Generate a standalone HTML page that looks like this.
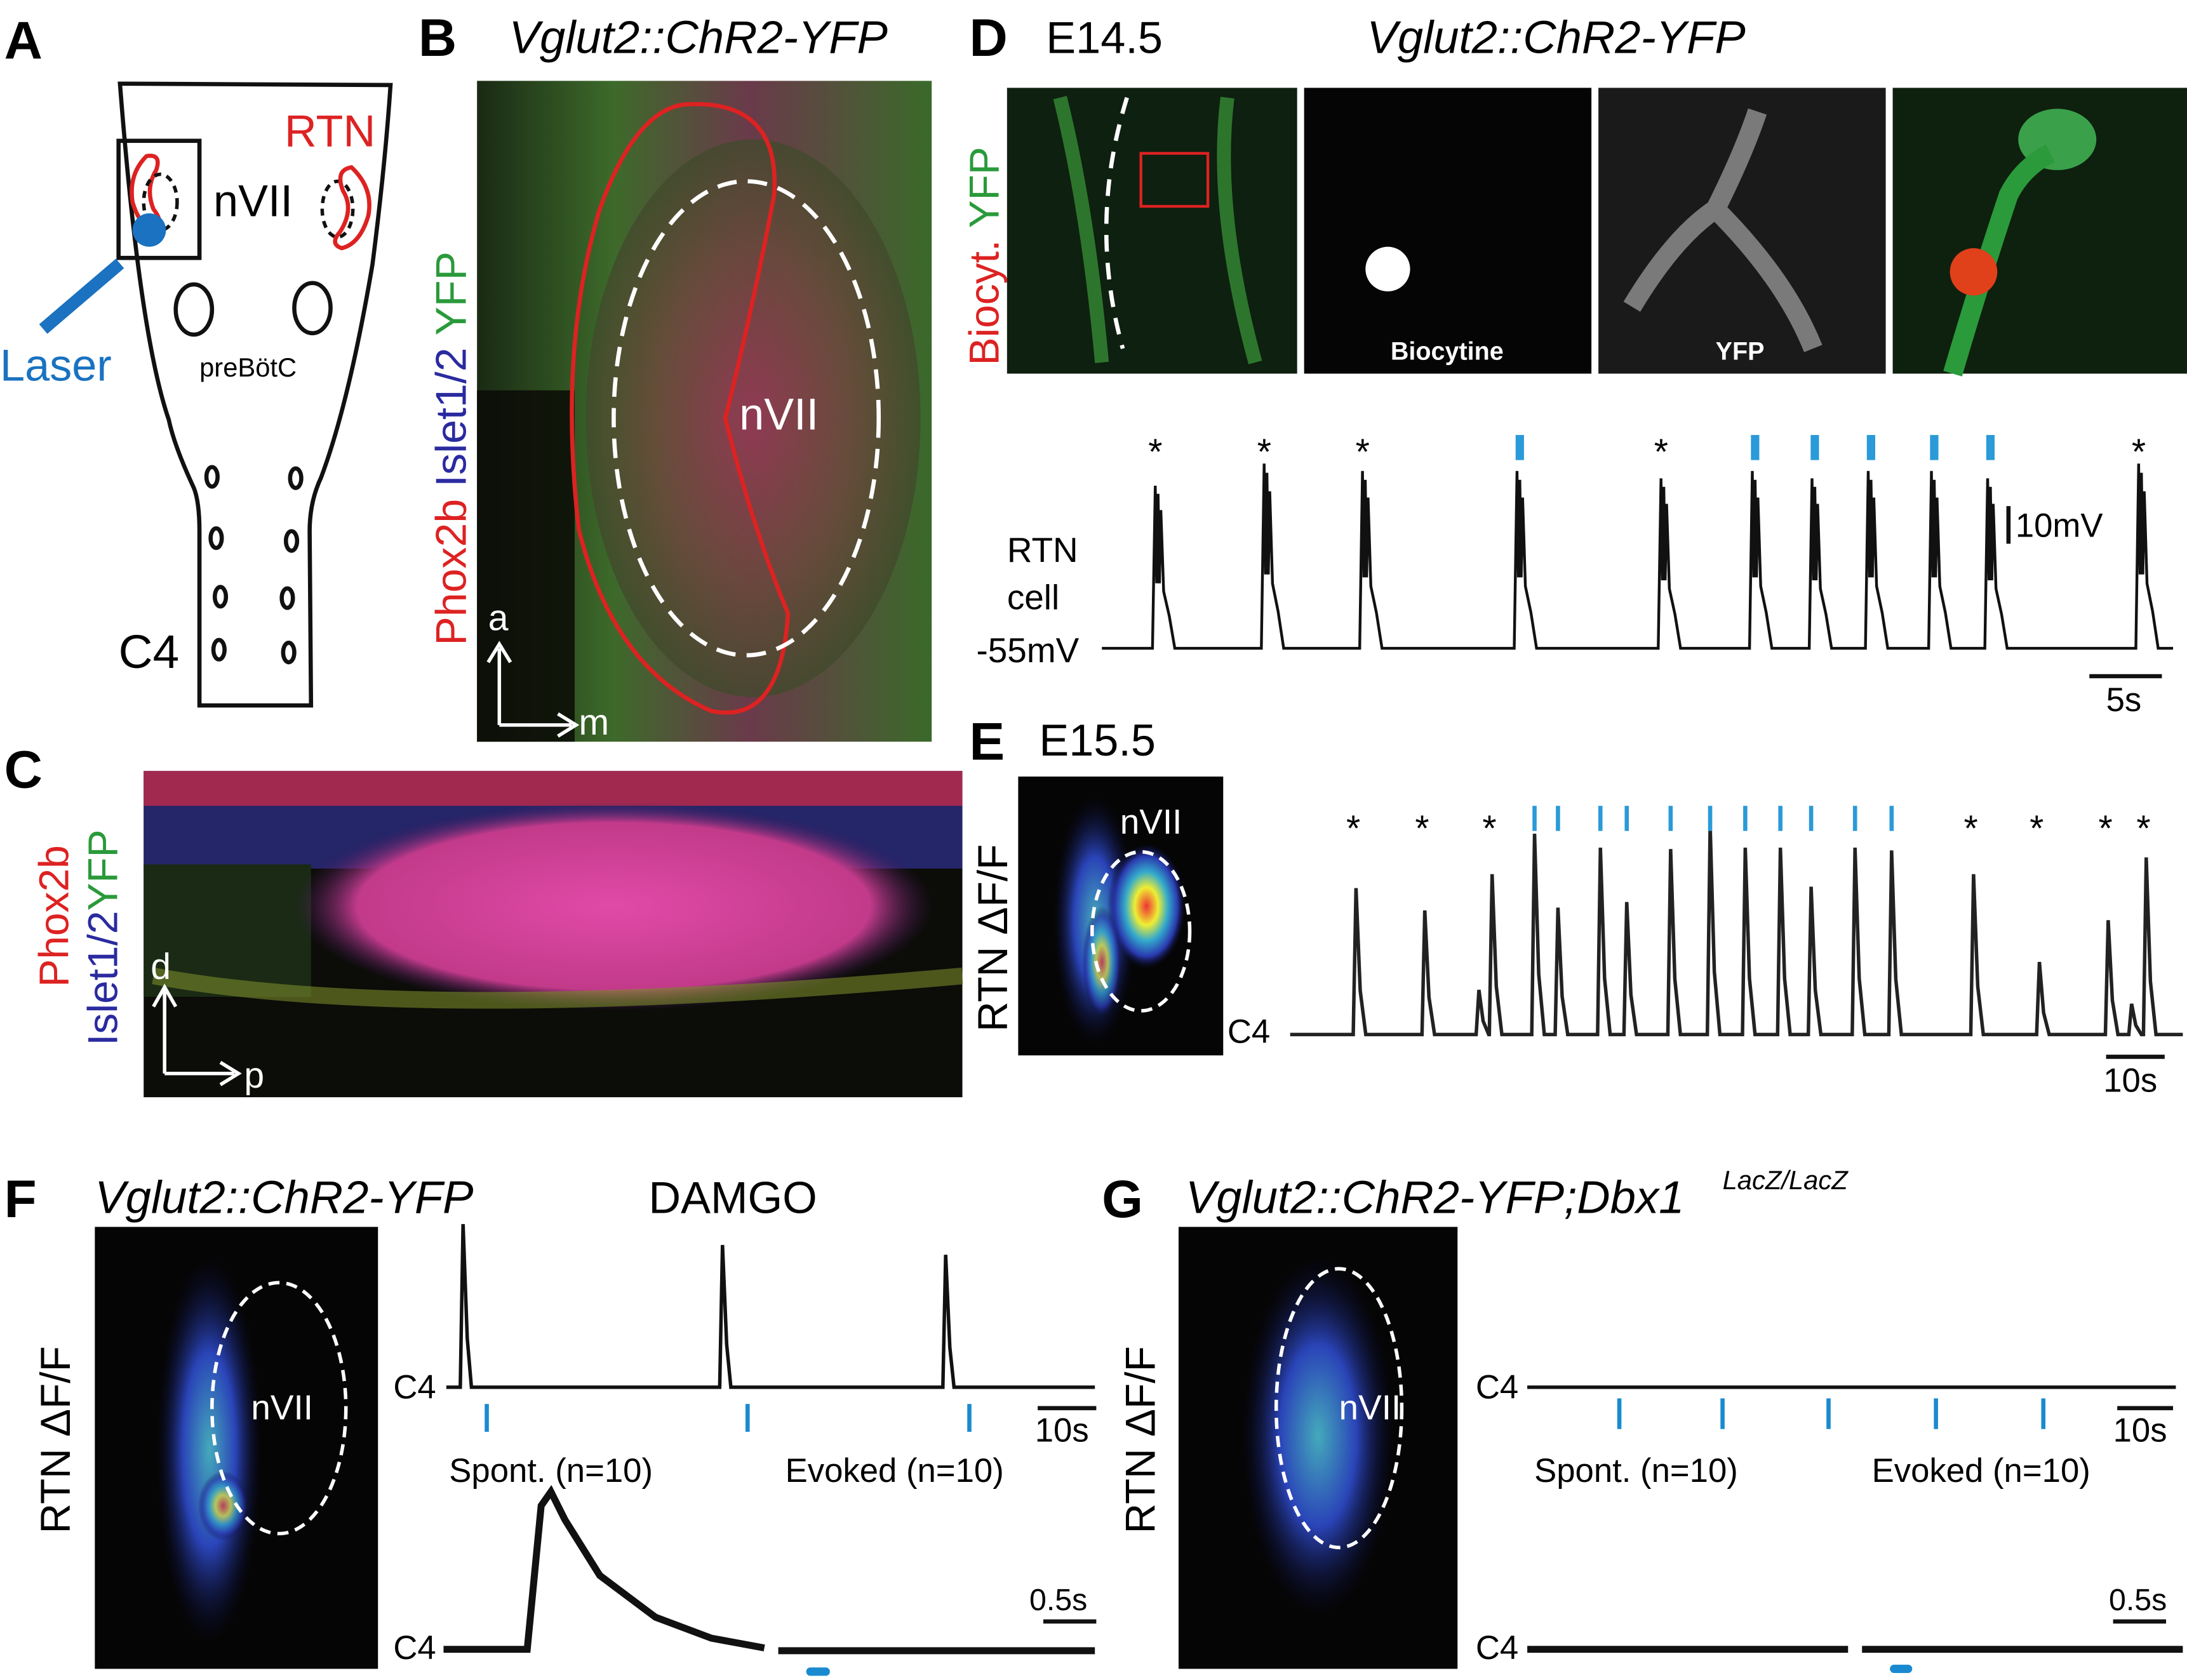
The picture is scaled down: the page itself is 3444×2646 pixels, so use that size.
<!DOCTYPE html>
<html><head><meta charset="utf-8"><style>
html,body{margin:0;padding:0;background:#fff}
svg{display:block}
text{font-family:"Liberation Sans",Arial,sans-serif}
</style></head><body>
<svg id="fig" width="3444" height="2646" viewBox="0 0 1568 1205" preserveAspectRatio="none" xmlns="http://www.w3.org/2000/svg">
<defs>
<radialGradient id="gB" cx="0.5" cy="0.5" r="0.6"><stop offset="0" stop-color="#9a3a55"/><stop offset="0.5" stop-color="#6a4a3a"/><stop offset="1" stop-color="#2c4a24"/></radialGradient>
<linearGradient id="gB2" x1="0" y1="0" x2="1" y2="0"><stop offset="0" stop-color="#1a2a14"/><stop offset="0.3" stop-color="#3d6a2a"/><stop offset="0.6" stop-color="#6a3a4a"/><stop offset="1" stop-color="#3a6a2a"/></linearGradient>
<radialGradient id="gC" cx="0.5" cy="0.5" r="0.5"><stop offset="0" stop-color="#e04aa8"/><stop offset="0.8" stop-color="#c23a8a"/><stop offset="1" stop-color="#3a1a5a" stop-opacity="0"/></radialGradient>
<radialGradient id="heat" cx="0.5" cy="0.5" r="0.5"><stop offset="0" stop-color="#e33"/><stop offset="0.3" stop-color="#ee3"/><stop offset="0.55" stop-color="#3ac"/><stop offset="0.8" stop-color="#2a3ab0"/><stop offset="1" stop-color="#0a0a30" stop-opacity="0"/></radialGradient>
<radialGradient id="blueb" cx="0.5" cy="0.5" r="0.5"><stop offset="0" stop-color="#4ab"/><stop offset="0.5" stop-color="#2a44b8"/><stop offset="1" stop-color="#0a0a30" stop-opacity="0"/></radialGradient>
</defs>

<!-- Panel A -->
<g>
<text x="3" y="42" font-size="38" font-weight="bold">A</text>
<path d="M86,60 L280,61 Q276,120 267,190 Q250,290 230,343 Q222,360 222,381 L223,506 L143,506 L143,381 Q143,360 139,350 Q125,320 121,301 Q100,240 86,60 Z" fill="none" stroke="#111" stroke-width="3"/>
<rect x="85" y="101" width="58" height="84" fill="none" stroke="#111" stroke-width="3"/>
<path d="M105,112 Q92,125 95,145 Q100,162 112,168 Q118,160 110,150 Q104,135 112,122 Q116,110 105,112Z" fill="none" stroke="#d22" stroke-width="3"/>
<ellipse cx="115" cy="145" rx="12" ry="20" fill="none" stroke="#111" stroke-width="2.5" stroke-dasharray="5,4"/>
<circle cx="107" cy="165" r="12" fill="#1a72c0"/>
<ellipse cx="242" cy="150" rx="11" ry="20" fill="none" stroke="#111" stroke-width="2.5" stroke-dasharray="5,4"/>
<path d="M252,120 Q268,135 264,155 Q258,175 245,178 Q236,175 244,166 Q254,150 246,137 Q240,122 252,120Z" fill="none" stroke="#d22" stroke-width="3"/>
<text x="204" y="105" font-size="32" fill="#d22">RTN</text>
<text x="153" y="155" font-size="32">nVII</text>
<ellipse cx="139" cy="222" rx="13" ry="18" fill="none" stroke="#111" stroke-width="3"/>
<ellipse cx="224" cy="221" rx="13" ry="18" fill="none" stroke="#111" stroke-width="3"/>
<text x="143" y="270" font-size="19">preBötC</text>
<line x1="31" y1="236" x2="86" y2="189" stroke="#1a72c0" stroke-width="9"/>
<text x="0" y="273" font-size="32" fill="#1a72c0">Laser</text>
<g fill="none" stroke="#111" stroke-width="3">
<ellipse cx="152" cy="342" rx="4" ry="7"/><ellipse cx="212" cy="343" rx="4" ry="7"/>
<ellipse cx="155" cy="386" rx="4" ry="7"/><ellipse cx="209" cy="388" rx="4" ry="7"/>
<ellipse cx="158" cy="428" rx="4" ry="7"/><ellipse cx="206" cy="429" rx="4" ry="7"/>
<ellipse cx="157" cy="466" rx="4" ry="7"/><ellipse cx="207" cy="468" rx="4" ry="7"/>
</g>
<text x="85" y="479" font-size="34">C4</text>
</g>

<!-- Panel B -->
<g>
<text x="300" y="40" font-size="38" font-weight="bold">B</text>
<text x="365" y="38" font-size="33" font-style="italic">Vglut2::ChR2-YFP</text>
<rect x="342" y="58" width="326" height="474" fill="url(#gB2)"/>
<ellipse cx="540" cy="300" rx="120" ry="200" fill="url(#gB)" opacity="0.8"/>
<rect x="342" y="280" width="70" height="252" fill="#0a0a06" opacity="0.85"/>
<path d="M490,75 Q560,70 555,140 Q540,220 520,300 Q540,380 565,440 Q560,520 510,510 Q440,480 415,380 Q400,250 430,150 Q455,80 490,75Z" fill="none" stroke="#d22" stroke-width="3"/>
<ellipse cx="535" cy="300" rx="95" ry="170" fill="none" stroke="#fff" stroke-width="3" stroke-dasharray="14,8"/>
<text x="530" y="308" font-size="32" fill="#fff">nVII</text>
<text x="350" y="452" font-size="26" fill="#fff">a</text>
<path d="M358,520 L358,465 M350,475 L358,462 L366,475 M358,520 L410,520 M400,512 L413,520 L400,528" stroke="#fff" stroke-width="2.5" fill="none"/>
<text x="415" y="527" font-size="26" fill="#fff">m</text>
<text transform="translate(334,463) rotate(-90)" font-size="31"><tspan fill="#d22">Phox2b </tspan><tspan fill="#2a2aa0">Islet1/2 </tspan><tspan fill="#2a9a3a">YFP</tspan></text>
</g>

<!-- Panel C -->
<g>
<text x="3" y="565" font-size="38" font-weight="bold">C</text>
<rect x="103" y="553" width="587" height="234" fill="#0c0c08"/>
<rect x="103" y="553" width="587" height="70" fill="#2a2a7a" opacity="0.85"/>
<rect x="103" y="553" width="587" height="25" fill="#c02a4a" opacity="0.8"/>
<rect x="103" y="620" width="120" height="95" fill="#1a2a14"/>
<ellipse cx="440" cy="650" rx="230" ry="75" fill="url(#gC)"/>
<path d="M110,700 Q300,735 690,700" stroke="#7a8a2a" stroke-width="12" fill="none" opacity="0.6"/>
<text x="108" y="702" font-size="26" fill="#fff">d</text>
<path d="M118,770 L118,710 M110,722 L118,708 L126,722 M118,770 L168,770 M158,762 L171,770 L158,778" stroke="#fff" stroke-width="2.5" fill="none"/>
<text x="175" y="780" font-size="26" fill="#fff">p</text>
<text transform="translate(49,708) rotate(-90)" font-size="30" fill="#d22">Phox2b</text>
<text transform="translate(84,750) rotate(-90)" font-size="30" fill="#2a2aa0">Islet1/2<tspan fill="#2a9a3a">YFP</tspan></text>
</g>

<!-- Panel D -->
<g>
<text x="695" y="40" font-size="38" font-weight="bold">D</text>
<text x="750" y="38" font-size="32">E14.5</text>
<text x="980" y="38" font-size="33" font-style="italic">Vglut2::ChR2-YFP</text>
<rect x="722" y="63" width="208" height="205" fill="#0e2010"/>
<path d="M760,70 Q780,150 790,260 M880,70 Q870,150 900,260" stroke="#3a9a3a" stroke-width="10" fill="none" opacity="0.7"/>
<path d="M808,70 Q780,160 805,250" stroke="#fff" stroke-width="3" stroke-dasharray="12,8" fill="none"/>
<rect x="818" y="110" width="48" height="38" fill="none" stroke="#d22" stroke-width="2"/>
<rect x="935" y="63" width="206" height="205" fill="#050505"/>
<circle cx="995" cy="193" r="16" fill="#fff"/>
<text x="997" y="258" font-size="18" font-weight="bold" fill="#fff">Biocytine</text>
<rect x="1146" y="63" width="206" height="205" fill="#1a1a1a"/>
<path d="M1170,220 Q1200,170 1230,150 Q1250,110 1260,80 M1230,150 Q1280,200 1300,250" stroke="#bbb" stroke-width="14" fill="none" opacity="0.6"/>
<text x="1230" y="258" font-size="18" font-weight="bold" fill="#fff">YFP</text>
<rect x="1357" y="63" width="211" height="205" fill="#0e200e"/>
<ellipse cx="1475" cy="100" rx="28" ry="22" fill="#3aa04a"/>
<path d="M1400,268 Q1420,200 1440,140 Q1450,120 1470,110" stroke="#2a9a3a" stroke-width="14" fill="none"/>
<circle cx="1415" cy="195" r="17" fill="#e0401a"/>
<text transform="translate(716,262) rotate(-90)" font-size="30"><tspan fill="#d22">Biocyt. </tspan><tspan fill="#2a9a3a">YFP</tspan></text>
<text x="722" y="403" font-size="25">RTN</text>
<text x="722" y="437" font-size="25">cell</text>
<text x="700" y="475" font-size="25">-55mV</text>
<g id="traceD"></g>
<line x1="1440" y1="363" x2="1440" y2="390" stroke="#111" stroke-width="3"/>
<text x="1445" y="385" font-size="24">10mV</text>
<line x1="1498" y1="485" x2="1550" y2="485" stroke="#111" stroke-width="3"/>
<text x="1510" y="510" font-size="24">5s</text>
</g>

<!-- Panel E -->
<g>
<text x="695" y="545" font-size="38" font-weight="bold">E</text>
<text x="745" y="542" font-size="32">E15.5</text>
<rect x="730" y="557" width="147" height="200" fill="#050505"/>
<ellipse cx="785" cy="660" rx="30" ry="90" fill="url(#blueb)"/>
<ellipse cx="822" cy="650" rx="28" ry="45" fill="url(#heat)"/>
<ellipse cx="790" cy="690" rx="14" ry="40" fill="url(#heat)" opacity="0.7"/>
<ellipse cx="818" cy="668" rx="35" ry="57" fill="none" stroke="#fff" stroke-width="2.5" stroke-dasharray="8,5"/>
<text x="803" y="598" font-size="25" fill="#fff">nVII</text>
<text transform="translate(722,740) rotate(-90)" font-size="30">RTN ΔF/F</text>
<text x="880" y="748" font-size="24">C4</text>
<g id="traceE"></g>
<line x1="1510" y1="758" x2="1552" y2="758" stroke="#111" stroke-width="3"/>
<text x="1508" y="783" font-size="24">10s</text>
</g>

<!-- Panel F -->
<g>
<text x="3" y="873" font-size="38" font-weight="bold">F</text>
<text x="68" y="870" font-size="33" font-style="italic">Vglut2::ChR2-YFP</text>
<text x="465" y="870" font-size="32">DAMGO</text>
<rect x="68" y="880" width="203" height="317" fill="#050505"/>
<ellipse cx="150" cy="1040" rx="38" ry="140" fill="url(#blueb)"/>
<ellipse cx="160" cy="1080" rx="18" ry="25" fill="url(#heat)" opacity="0.7"/>
<ellipse cx="200" cy="1010" rx="48" ry="90" fill="none" stroke="#fff" stroke-width="2.5" stroke-dasharray="8,5"/>
<text x="180" y="1018" font-size="25" fill="#fff">nVII</text>
<text transform="translate(50,1100) rotate(-90)" font-size="30">RTN ΔF/F</text>
<text x="282" y="1003" font-size="24">C4</text>
<g id="traceF"></g>
<line x1="744" y1="1010" x2="786" y2="1010" stroke="#111" stroke-width="3"/>
<text x="742" y="1034" font-size="24">10s</text>
<text x="322" y="1063" font-size="24">Spont. (n=10)</text>
<text x="563" y="1063" font-size="24">Evoked (n=10)</text>
<text x="282" y="1190" font-size="24">C4</text>
<g id="avgF"></g>
<line x1="748" y1="1163" x2="786" y2="1163" stroke="#111" stroke-width="3"/>
<text x="738" y="1155" font-size="22">0.5s</text>
<rect x="578" y="1196" width="17" height="6" rx="3" fill="#1a8ad0"/>
</g>

<!-- Panel G -->
<g>
<text x="790" y="873" font-size="38" font-weight="bold">G</text>
<text x="850" y="870" font-size="33" font-style="italic">Vglut2::ChR2-YFP;Dbx1</text>
<text x="1235" y="853" font-size="19" font-style="italic">LacZ/LacZ</text>
<rect x="845" y="880" width="200" height="317" fill="#050505"/>
<ellipse cx="945" cy="1030" rx="55" ry="130" fill="url(#blueb)"/>
<ellipse cx="960" cy="1010" rx="45" ry="100" fill="none" stroke="#fff" stroke-width="2.5" stroke-dasharray="8,5"/>
<text x="960" y="1018" font-size="25" fill="#fff">nVII</text>
<text transform="translate(828,1100) rotate(-90)" font-size="30">RTN ΔF/F</text>
<text x="1058" y="1003" font-size="24">C4</text>
<g id="traceG"></g>
<line x1="1518" y1="1010" x2="1558" y2="1010" stroke="#111" stroke-width="3"/>
<text x="1515" y="1034" font-size="24">10s</text>
<text x="1100" y="1063" font-size="24">Spont. (n=10)</text>
<text x="1342" y="1063" font-size="24">Evoked (n=10)</text>
<text x="1058" y="1190" font-size="24">C4</text>
<line x1="1095" y1="1183" x2="1325" y2="1183" stroke="#111" stroke-width="5"/>
<line x1="1335" y1="1183" x2="1565" y2="1183" stroke="#111" stroke-width="5"/>
<line x1="1515" y1="1163" x2="1553" y2="1163" stroke="#111" stroke-width="3"/>
<text x="1512" y="1155" font-size="22">0.5s</text>
<rect x="1355" y="1194" width="16" height="6" rx="3" fill="#1a8ad0"/>
</g>
<script>
// Panel D: event times (s) and types
const dTimes=[1.6,4.7,7.5,11.9,16.0,18.6,20.3,21.9,23.7,25.3,29.6];
const dAmps=[22,25,24,24,23,24,23,24,24,23,25];
const dEvoked=[0,0,0,1,0,1,1,1,1,1,0];
// Panel E
const eTimes=[4.5,9.2,12.9,13.8,16.7,18.3,21.2,23.0,26.0,28.7,31.1,33.5,35.6,38.6,41.1,46.7,51.2,55.9,57.5,58.5];
const eAmps=[105,89,32,115,144,91,134,95,133,150,134,134,106,134,132,115,52,82,22,127];
const eStars=[4.5,9.2,13.8,46.7,51.2,55.9,58.5];
const eEvoked=[16.7,18.3,21.2,23.0,26.0,28.7,31.1,33.5,35.6,38.6,41.1];
// Panel F
const fTimes=[1.2,19.8,35.8];
const fAmps=[117,102,95];
const fStim=[2.9,21.6,37.5];
// Panel G
const gStim=[6.6,14.0,21.6,29.3,37.0];

const NS="http://www.w3.org/2000/svg";
function mk(tag,attrs,parent){const e=document.createElementNS(NS,tag);for(const k in attrs)e.setAttribute(k,attrs[k]);parent.appendChild(e);return e;}
const xD=t=>790+t*(1558-790)/30.5, yD=v=>465-v*5.3;
const xE=t=>925+t*(1565-925)/61, yE=v=>742-v;
const xF=t=>320+t*(785-320)/46.5, yF=v=>995-v;
const xG=t=>1095+t*(1560-1095)/46.5;

let gD=document.getElementById('traceD');
let p="M"+xD(0)+","+yD(0);
dTimes.forEach((t,i)=>{const x=xD(t),a=dAmps[i];
 p+=` L${x-4},${yD(0)} L${x-3},${yD(a*0.5)} L${x-2},${yD(a)} L${x-1},${yD(a*0.4)} L${x},${yD(a*0.95)} L${x+1},${yD(a*0.4)} L${x+2},${yD(a*0.85)} L${x+4},${yD(a*0.35)} L${x+8},${yD(a*0.2)} L${x+12},${yD(0)}`;});
p+=" L"+xD(30.5)+","+yD(0);
let pd=mk('path',{d:p,fill:'none',stroke:'#111','stroke-width':2},gD);

dTimes.forEach((t,i)=>{
 if(dEvoked[i]){const r=mk('rect',{x:xD(t)-3,y:312,width:6,height:18,fill:'#2a9ad8'},gD);
  }
 else{const s=mk('text',{x:xD(t)-7,y:333,'font-size':26},gD);s.textContent='*';
  }
});
let gE=document.getElementById('traceE');
p="M"+xE(0)+","+yE(0);
eTimes.forEach((t,i)=>{const x=xE(t);p+=` L${x-2},${yE(0)} L${x},${yE(eAmps[i])} L${x+3},${yE(eAmps[i]*0.3)} L${x+7},${yE(0)}`;});
p+=" L"+xE(61)+","+yE(0);
let pe=mk('path',{d:p,fill:'none',stroke:'#222','stroke-width':2.5},gE);

eStars.forEach(t=>{const s=mk('text',{x:xE(t)-7,y:603,'font-size':26},gE);s.textContent='*';
 });
eEvoked.forEach(t=>{const r=mk('rect',{x:xE(t)-1.5,y:578,width:3,height:18,fill:'#2a9ad8'},gE);
 });
let gF=document.getElementById('traceF');
p="M"+xF(0)+","+yF(0);
fTimes.forEach((t,i)=>{const x=xF(t);p+=` L${x-2},${yF(0)} L${x},${yF(fAmps[i])} L${x+3},${yF(fAmps[i]*0.3)} L${x+6},${yF(0)}`;});
p+=" L"+xF(46.5)+","+yF(0);
let pf=mk('path',{d:p,fill:'none',stroke:'#111','stroke-width':2.5},gF);

fStim.forEach(t=>{const r=mk('rect',{x:xF(t)-1.5,y:1007,width:3,height:20,fill:'#1a8ad0'},gF);
 });
let gA=document.getElementById('avgF');
let pa=mk('path',{d:"M318,1183 L378,1183 L388,1080 L395,1070 L405,1090 L430,1130 L470,1160 L510,1175 L548,1182",fill:'none',stroke:'#111','stroke-width':5},gA);

let pb=mk('line',{x1:558,y1:1184,x2:785,y2:1184,stroke:'#111','stroke-width':5},gA);

let gG=document.getElementById('traceG');
let lg=mk('line',{x1:xG(0),y1:995,x2:xG(46.5),y2:995,stroke:'#111','stroke-width':2.5},gG);

gStim.forEach(t=>{const r=mk('rect',{x:xG(t)-1.5,y:1003,width:3,height:22,fill:'#1a8ad0'},gG);
 });
</script>
</svg>
</body></html>
